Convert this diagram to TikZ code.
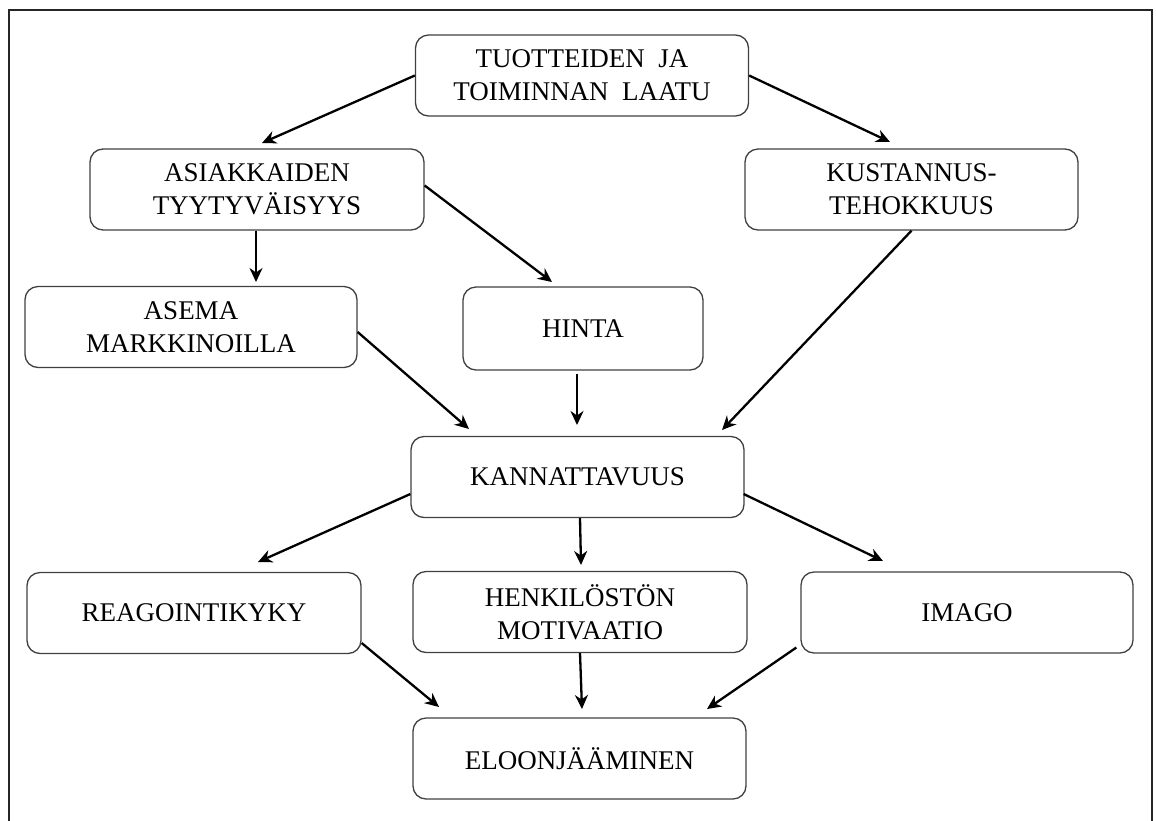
\documentclass[tikz,border=0pt]{standalone}
\usepackage{fontspec}
\setmainfont{Liberation Serif}
\usetikzlibrary{arrows.meta}
\begin{document}
\begin{tikzpicture}[x=1pt,y=-1pt,
  box/.style={draw=black!75,line width=1.3pt,rounded corners=13pt,minimum width=333pt,minimum height=81pt,
    align=center,font=\fontsize{27}{33}\selectfont,inner sep=0pt},
  arr/.style={line width=2.3pt,-{Stealth[length=14pt,width=13pt,inset=4.5pt]}}]
\useasboundingbox (0,0) rectangle (1156,820);
\draw[line width=1.5pt,black!85] (9,830) -- (9,10) -- (1152,10) -- (1152,830);
\node[box] (top) at (582,75.5) {TUOTTEIDEN\ \ JA\\TOIMINNAN\ \ LAATU};
\node[box,minimum width=334pt] (asi) at (257,189.5) {ASIAKKAIDEN\\TYYTYV\"AISYYS};
\node[box] (kus) at (911.5,189.5) {KUSTANNUS-\\TEHOKKUUS};
\node[box,minimum width=332pt] (ase) at (191,327) {ASEMA\\MARKKINOILLA};
\node[box,minimum width=240pt,minimum height=83pt] (hin) at (583,328.5) {HINTA};
\node[box] (kan) at (577.5,477) {KANNATTAVUUS};
\node[box,minimum width=334pt] (rea) at (194,613) {REAGOINTIKYKY};
\node[box,minimum width=334pt] (hen) at (580,612) {HENKIL\"OST\"ON\\MOTIVAATIO};
\node[box,minimum width=332pt] (ima) at (967,612.5) {IMAGO};
\node[box] (elo) at (579.5,758.5) {ELOONJ\"A\"AMINEN};
\coordinate (t1) at (262,143);
\coordinate (t2) at (890,142);
\coordinate (t3) at (256,282);
\coordinate (t4) at (552,282);
\coordinate (t5) at (722,430);
\coordinate (t6) at (469,429);
\coordinate (t7) at (577,425);
\coordinate (t8) at (258,562);
\coordinate (t9) at (581,565);
\coordinate (t10) at (883,561);
\coordinate (t11) at (439,707);
\coordinate (t12) at (582,709);
\coordinate (t13) at (707,709);
\draw[arr] (top.west) -- (t1);
\draw[arr] (top.east) -- (t2);
\draw[arr] ([xshift=-1pt]asi.south) -- (t3);
\draw[arr] ([yshift=4pt]asi.east) -- (t4);
\draw[arr] (kus.south) -- (t5);
\draw[arr] ([yshift=-5pt]ase.east) -- (t6);
\draw[arr] ([xshift=-6pt,yshift=-3pt]hin.south) -- (t7);
\draw[arr] ([yshift=-17pt]kan.west) -- (t8);
\draw[arr] ([xshift=2.5pt]kan.south) -- (t9);
\draw[arr] ([xshift=-1pt,yshift=-17pt]kan.east) -- (t10);
\draw[arr] ([yshift=-30pt]rea.east) -- (t11);
\draw[arr] (hen.south) -- (t12);
\draw[arr] ([xshift=-4pt,yshift=-35pt]ima.west) -- (t13);
\end{tikzpicture}
\end{document}
